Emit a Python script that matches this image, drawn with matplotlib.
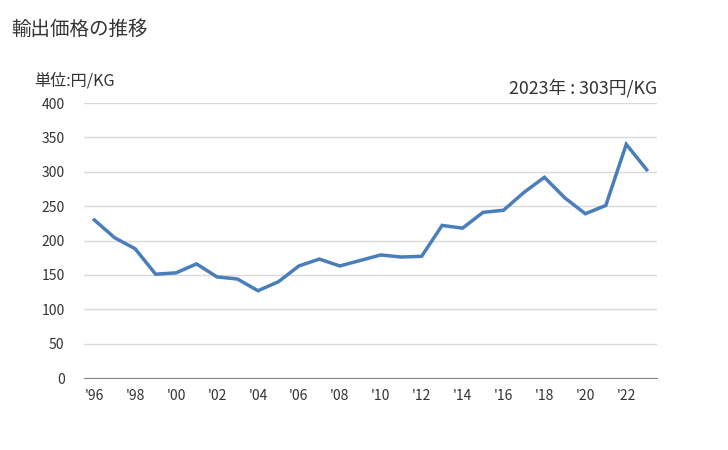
import matplotlib
matplotlib.use("Agg")
import matplotlib.pyplot as plt

plt.rcParams['font.family'] = ['Noto Sans CJK JP', 'DejaVu Sans']

years = list(range(1996, 2024))
values = [230, 204, 188, 151, 153, 166, 147, 144, 127, 140, 163, 173, 163, 171,
          179, 176, 177, 222, 218, 241, 244, 270, 292, 262, 239, 251, 340, 303]
tick_years = list(range(1996, 2023, 2))
tick_labels = ["'" + str(y)[2:] for y in tick_years]
yticks = [0, 50, 100, 150, 200, 250, 300, 350, 400]

fig = plt.figure(figsize=(7.28, 4.5), dpi=100)
ax = fig.add_axes([0.1154, 0.16, 0.787, 0.611])

ax.plot(years, values, color='#4a7ebb', linewidth=2.5, solid_joinstyle='miter')

ax.set_xlim(1995.5, 2023.5)
ax.set_ylim(0, 400)
ax.set_yticks(yticks)
ax.set_xticks(tick_years)
ax.set_xticklabels(tick_labels)
ax.grid(axis='y', color='#d9d9d9', linewidth=1)
ax.set_axisbelow(True)
for s in ['top', 'right', 'left']:
    ax.spines[s].set_visible(False)
ax.spines['bottom'].set_color('#888888')
ax.tick_params(axis='both', length=0, labelsize=10, colors='#333333')
ax.tick_params(axis='y', pad=14)
ax.tick_params(axis='x', pad=8)

fig.text(0.016, 0.935, '輸出価格の推移', fontsize=14, color='#333333', va='center', ha='left')
fig.text(0.047, 0.82, '単位:円/KG', fontsize=11.6, color='#333333', va='center', ha='left')
fig.text(0.903, 0.805, '2023年 : 303円/KG', fontsize=12.8, color='#333333', va='center', ha='right')

fig.savefig('out.png', dpi=100)
